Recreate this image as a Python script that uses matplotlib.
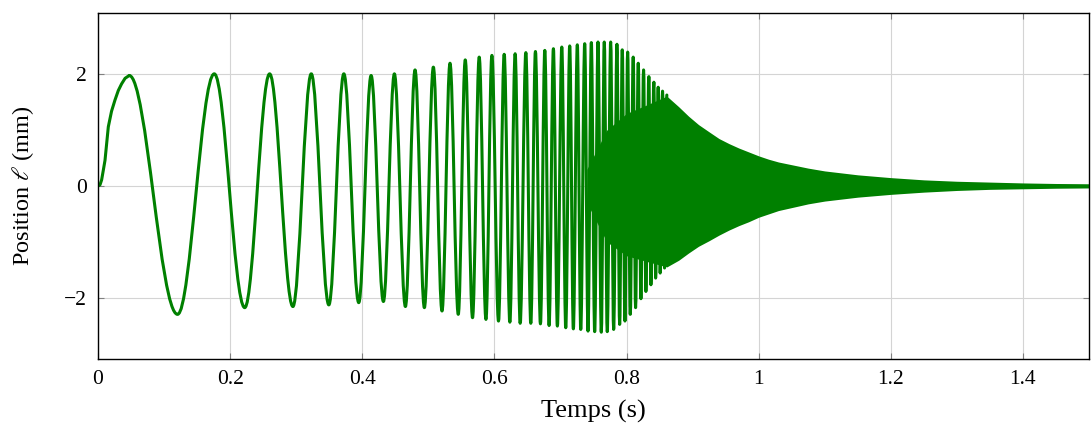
import numpy as np
import matplotlib
matplotlib.use("Agg")
import matplotlib.pyplot as plt
from matplotlib.path import Path
from matplotlib.patches import PathPatch

plt.rcParams['font.family'] = ['Liberation Serif', 'DejaVu Serif']
plt.rcParams['mathtext.fontset'] = 'stix'
plt.rcParams['font.size'] = 15.5

# initial rise from rest (time in s, position in mm)
rise_t = [0.0, 0.0030, 0.0055, 0.0080, 0.0106, 0.0156, 0.0205, 0.0257, 0.0307, 0.0357, 0.0410, 0.0473]
rise_y = [0.0, 0.02, 0.11, 0.28, 0.46, 1.06, 1.34, 1.54, 1.71, 1.83, 1.93, 1.98]

# extrema of the resolved oscillations
peak_t = [0.0473, 0.1204, 0.1760, 0.2221, 0.2598, 0.2950, 0.3228, 0.3494,
          0.3721, 0.3947, 0.4134, 0.4320, 0.4486, 0.4653, 0.4799, 0.4940, 0.5076,
          0.5207, 0.5328, 0.5453, 0.5559, 0.5669, 0.5770, 0.5872, 0.5962, 0.6062,
          0.6148, 0.6234, 0.6314, 0.6390, 0.6476, 0.6551, 0.6621, 0.6697,
          0.6763, 0.6828, 0.6893, 0.6953, 0.7020, 0.7080, 0.7140, 0.7195, 0.7255,
          0.7307, 0.7367, 0.7417, 0.7467, 0.7518, 0.7568, 0.7618, 0.7663, 0.7708,
          0.7760, 0.7805, 0.7855, 0.7896, 0.7935, 0.7976, 0.8017, 0.8056, 0.8101,
          0.8137, 0.8177, 0.8218, 0.8258, 0.8293, 0.8338, 0.8369, 0.8414, 0.8440,
          0.8479, 0.8509, 0.8545, 0.8575, 0.8610]
peak_y = [1.98, -2.30, 2.01, -2.18, 2.01, -2.16, 2.01, -2.13,
          2.01, -2.09, 1.98, -2.07, 2.01, -2.16, 2.08, -2.18, 2.13,
          -2.24, 2.20, -2.30, 2.26, -2.36, 2.31, -2.39, 2.34, -2.42,
          2.36, -2.44, 2.37, -2.46, 2.39, -2.46, 2.41, -2.47,
          2.43, -2.50, 2.46, -2.51, 2.49, -2.54, 2.51, -2.56, 2.53,
          -2.57, 2.55, -2.60, 2.57, -2.61, 2.58, -2.62, 2.58, -2.61,
          2.58, -2.57, 2.54, -2.48, 2.44, -2.42, 2.40, -2.30, 2.31,
          -2.18, 2.20, -2.02, 2.08, -1.89, 1.96, -1.77, 1.86, -1.65,
          1.77, -1.56, 1.70, -1.47, 1.63]

# unresolved fast part: solid band (upper / lower edge)
band_t = [0.740, 0.770, 0.800, 0.830, 0.861, 0.879, 0.894, 0.909, 0.925,
          0.940, 0.955, 0.970, 0.985, 1.000, 1.015, 1.030, 1.075, 1.100, 1.150,
          1.200, 1.250, 1.300, 1.350, 1.400, 1.450, 1.500]
band_top = [0.30, 1.00, 1.30, 1.45, 1.61, 1.42, 1.25, 1.10, 0.97,
            0.85, 0.76, 0.68, 0.61, 0.54, 0.48, 0.43, 0.32, 0.27, 0.20,
            0.15, 0.11, 0.085, 0.07, 0.055, 0.045, 0.04]
band_bot = [-0.30, -1.00, -1.25, -1.35, -1.45, -1.33, -1.20, -1.08, -0.98,
            -0.88, -0.79, -0.71, -0.64, -0.56, -0.50, -0.44, -0.32, -0.27, -0.20,
            -0.15, -0.11, -0.08, -0.06, -0.05, -0.04, -0.035]

x_ticks = [0, 0.2, 0.4, 0.6, 0.8, 1.0, 1.2, 1.4]
x_labels = ['0', '0.2', '0.4', '0.6', '0.8', '1', '1.2', '1.4']
y_ticks = [-2, 0, 2]
y_labels = ['\u22122', '0', '2']

fig = plt.figure(figsize=(10.91, 4.34), dpi=100)
ax = fig.add_axes([98 / 1091, 1 - 359 / 434, 991 / 1091, 346 / 434])

green = '#008000'
lw = 2.2

ax.plot(rise_t, rise_y, color=green, lw=lw, zorder=3, solid_capstyle='round')

# smooth curve through the extrema (horizontal tangent at every extremum)
verts = [(peak_t[0], peak_y[0])]
codes = [Path.MOVETO]
for i in range(1, len(peak_t)):
    t0, y0 = peak_t[i - 1], peak_y[i - 1]
    t1, y1 = peak_t[i], peak_y[i]
    d = 0.36 * (t1 - t0)
    verts += [(t0 + d, y0), (t1 - d, y1), (t1, y1)]
    codes += [Path.CURVE4] * 3
ax.add_patch(PathPatch(Path(verts, codes), facecolor='none', edgecolor=green,
                       lw=lw, zorder=3, capstyle='round', joinstyle='round'))

ax.fill_between(band_t, band_bot, band_top, color=green, lw=0, zorder=3)

ax.set_xlim(0, 1.5)
ax.set_ylim(-3.1, 3.1)
ax.set_xticks(x_ticks)
ax.set_xticklabels(x_labels)
ax.set_yticks(y_ticks)
ax.set_yticklabels(y_labels)
ax.grid(True, color='#d4d4d4', lw=0.8)
ax.set_axisbelow(True)
ax.tick_params(direction='in', top=True, right=True, length=4, width=0.8,
               color='#808080', pad=8)
for s in ax.spines.values():
    s.set_linewidth(1.0)
    s.set_zorder(4)

ax.set_xlabel('Temps (s)', fontsize=19, labelpad=8)
ax.set_ylabel(r'Position $\ell$ (mm)', fontsize=17.5, labelpad=20)

fig.savefig('out.png', dpi=100)
